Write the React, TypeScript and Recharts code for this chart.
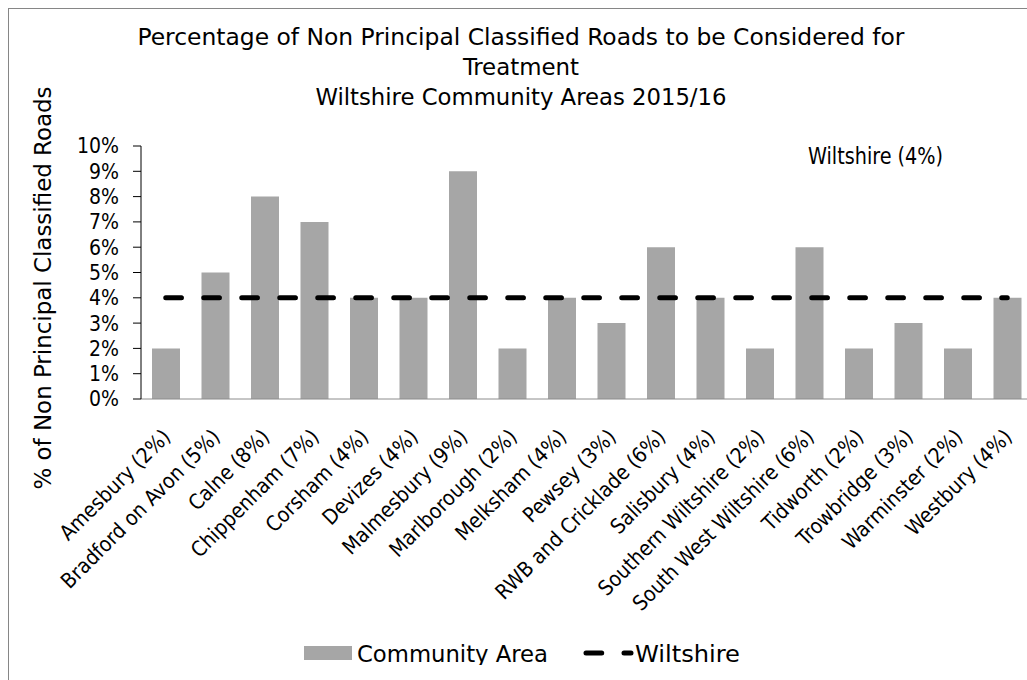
import React from 'react';
import { ComposedChart, Bar, Line, XAxis, YAxis, Legend, Customized } from 'recharts';

const categories = [
  'Amesbury', 'Bradford on Avon', 'Calne', 'Chippenham', 'Corsham', 'Devizes',
  'Malmesbury', 'Marlborough', 'Melksham', 'Pewsey', 'RWB and Cricklade', 'Salisbury',
  'Southern Wiltshire', 'South West Wiltshire', 'Tidworth', 'Trowbridge', 'Warminster', 'Westbury',
];
const areaValues = [2, 5, 8, 7, 4, 4, 9, 2, 4, 3, 6, 4, 2, 6, 2, 3, 2, 4];
const wiltshireValues = [4, 4, 4, 4, 4, 4, 4, 4, 4, 4, 4, 4, 4, 4, 4, 4, 4, 4];
const xTickLabels = [
  'Amesbury (2%)', 'Bradford on Avon (5%)', 'Calne (8%)', 'Chippenham (7%)', 'Corsham (4%)',
  'Devizes (4%)', 'Malmesbury (9%)', 'Marlborough (2%)', 'Melksham (4%)', 'Pewsey (3%)',
  'RWB and Cricklade (6%)', 'Salisbury (4%)', 'Southern Wiltshire (2%)', 'South West Wiltshire (6%)',
  'Tidworth (2%)', 'Trowbridge (3%)', 'Warminster (2%)', 'Westbury (4%)',
];
const yTickValues = [0, 1, 2, 3, 4, 5, 6, 7, 8, 9, 10];
const titleLines = [
  'Percentage of Non Principal Classified Roads to be Considered for',
  'Treatment',
  'Wiltshire Community Areas 2015/16',
];
const yAxisTitle = '% of Non Principal Classified Roads';
const seriesNames = ['Community Area', 'Wiltshire'];
const annotationText = 'Wiltshire (4%)';

const FONT = "'DejaVu Sans Condensed', 'DejaVu Sans', sans-serif";
const BAR_COLOR = '#A6A6A6';
const DASH = '15.7 22.3';

const data = categories.map((c, i) => ({
  key: c,
  category: xTickLabels[i],
  area: areaValues[i],
  wiltshire: wiltshireValues[i],
}));

const XTick = (props: any) => {
  const { x, y, payload } = props;
  return (
    <g transform={`translate(${x + 6},${y + 31})`}>
      <text transform="rotate(-45)" textAnchor="end" fontSize={21} fill="#000" fontFamily={FONT}>
        {payload.value}
      </text>
    </g>
  );
};

const TextLayer = () => (
  <g fontFamily={FONT} fill="#000">
    <text x={512} y={36} fontSize={23} textAnchor="middle" textLength={767} lengthAdjust="spacingAndGlyphs">{titleLines[0]}</text>
    <text x={512} y={66} fontSize={23} textAnchor="middle" textLength={116} lengthAdjust="spacingAndGlyphs">{titleLines[1]}</text>
    <text x={512} y={96} fontSize={23} textAnchor="middle" textLength={411} lengthAdjust="spacingAndGlyphs">{titleLines[2]}</text>
    <text transform="translate(42,279) rotate(-90)" fontSize={23} textAnchor="middle" textLength={403} lengthAdjust="spacingAndGlyphs">{yAxisTitle}</text>
    <text x={799} y={155} fontSize={23} textLength={135} lengthAdjust="spacingAndGlyphs">{annotationText}</text>
  </g>
);

const LegendContent = () => (
  <svg width={1040} height={24} style={{ display: 'block' }} fontFamily={FONT}>
    <rect x={295} y={5} width={48} height={14} fill={BAR_COLOR} />
    <text x={348} y={20.5} fontSize={23} fill="#000" textLength={191} lengthAdjust="spacingAndGlyphs">{seriesNames[0]}</text>
    <line x1={577} y1={12} x2={622} y2={12} stroke="#000" strokeWidth={5} strokeDasharray={DASH} strokeLinecap="round" />
    <text x={626} y={20.5} fontSize={23} fill="#000" textLength={105} lengthAdjust="spacingAndGlyphs">{seriesNames[1]}</text>
  </svg>
);

export default function App() {
  return (
    <div style={{ width: 1027, height: 680, overflow: 'hidden', boxSizing: 'border-box', padding: '8px 0 0 8px', background: '#fff' }}>
      <style>{'html,body{margin:0;padding:0;overflow:hidden;background:#fff}'}</style>
      <div style={{ width: 1040, height: 680, border: '1px solid #868686', fontFamily: FONT, background: '#fff' }}>
        <ComposedChart
          width={1040}
          height={680}
          data={data}
          margin={{ top: 137, right: 17, left: 0, bottom: 24 }}
        >
          <XAxis
            dataKey="category"
            interval={0}
            tickLine={false}
            axisLine={{ stroke: '#8C8C8C' }}
            height={242}
            tick={<XTick />}
          />
          <YAxis
            domain={[0, 10]}
            ticks={yTickValues}
            interval={0}
            tickFormatter={(v: number) => `${v}%`}
            tick={{ fontSize: 21, fill: '#000', fontFamily: FONT }}
            axisLine={{ stroke: '#000' }}
            tickLine={{ stroke: '#000' }}
            tickSize={8}
            tickMargin={14}
            width={132}
          />
          <Bar dataKey="area" name={seriesNames[0]} fill={BAR_COLOR} barSize={28} isAnimationActive={false} />
          <Line
            type="linear"
            dataKey="wiltshire"
            name={seriesNames[1]}
            stroke="#000"
            strokeWidth={5}
            strokeDasharray={DASH}
            strokeLinecap="round"
            dot={false}
            activeDot={false}
            isAnimationActive={false}
          />
          <Legend verticalAlign="bottom" content={<LegendContent />} wrapperStyle={{ left: 0, width: 1040 }} />
          <Customized component={<TextLayer />} />
        </ComposedChart>
      </div>
    </div>
  );
}
